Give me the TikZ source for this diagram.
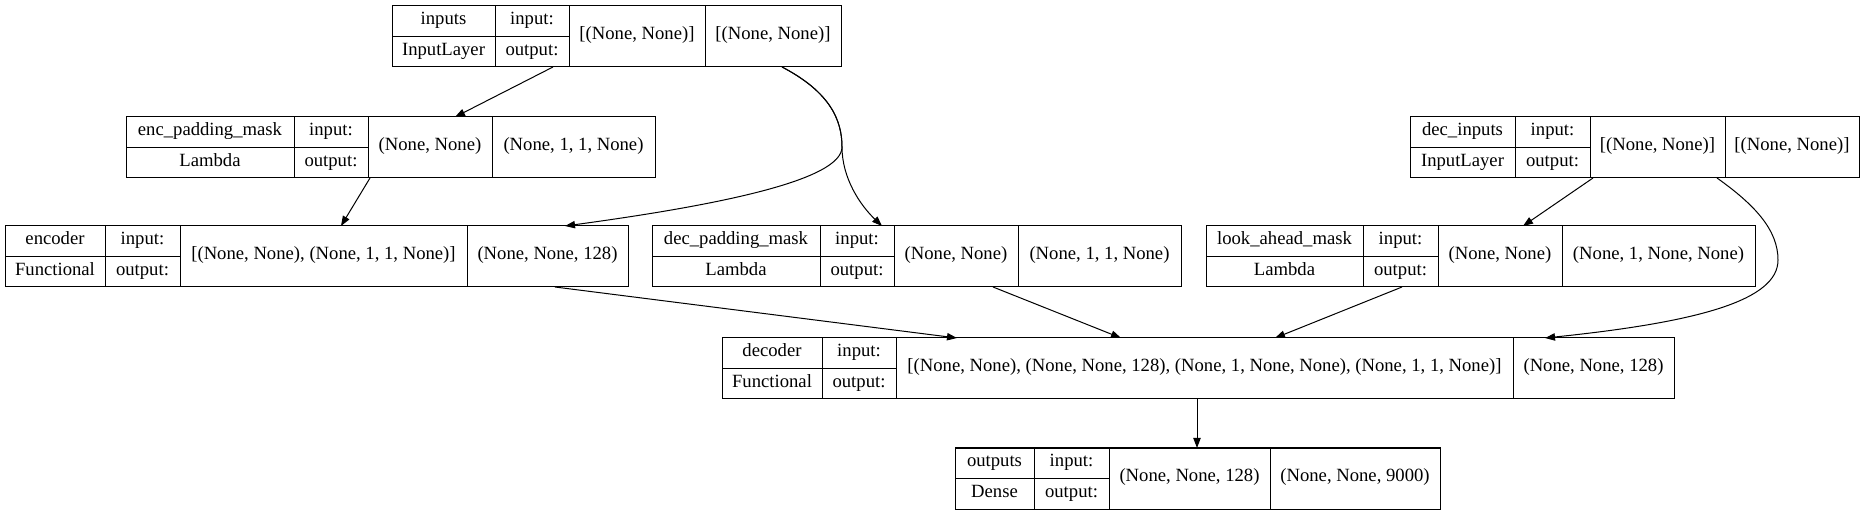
\documentclass[tikz,border=0pt]{standalone}
\usepackage{fontspec}
\setmainfont{Liberation Serif}
\usetikzlibrary{arrows.meta}
\newcommand\setshapes[2]{\def\lbinS{#1}\def\lboutS{#2}}
\newcommand\lbox[9]{%
 \node[cell,minimum width={(#3-#2)*0.75pt},minimum height=22.875pt] (#1-n) at ({(#2+#3)/2},{#7+15.25}) {#8};
 \node[cell,minimum width={(#3-#2)*0.75pt},minimum height=22.875pt] (#1-k) at ({(#2+#3)/2},{#7+45.75}) {#9};
 \node[cell,minimum width={(#4-#3)*0.75pt},minimum height=22.875pt] (#1-i) at ({(#3+#4)/2},{#7+15.25}) {input:};
 \node[cell,minimum width={(#4-#3)*0.75pt},minimum height=22.875pt] (#1-o) at ({(#3+#4)/2},{#7+45.75}) {output:};
 \node[cell,minimum width={(#5-#4)*0.75pt},minimum height=45.75pt] (#1-a) at ({(#4+#5)/2},{#7+30.5}) {\lbinS};
 \node[cell,minimum width={(#6-#5)*0.75pt},minimum height=45.75pt] (#1-b) at ({(#5+#6)/2},{#7+30.5}) {\lboutS};
}
\begin{document}
\begin{tikzpicture}[x=0.75pt,y=-0.75pt,
  cell/.style={draw,line width=0.75pt,inner sep=0pt,outer sep=0pt,anchor=center,
    font=\fontsize{14}{16}\selectfont,text height=0.72em,text depth=0.22em},
  edge/.style={draw,line width=0.75pt,-{Triangle[length=7.5pt,width=5.5pt]}}]
\useasboundingbox (0,0) rectangle (1867,516);
\setshapes{[(None, None)]}{[(None, None)]}
\lbox{inputs}{392}{495}{569}{705}{841}{6}{inputs}{InputLayer}
\setshapes{(None, None)}{(None, 1, 1, None)}
\lbox{enc}{126}{294}{368}{492}{655}{117}{enc\_padding\_mask}{Lambda}
\setshapes{[(None, None), (None, 1, 1, None)]}{(None, None, 128)}
\lbox{encoder}{5}{105}{180}{467}{628}{226}{encoder}{Functional}
\setshapes{(None, None)}{(None, 1, 1, None)}
\lbox{decpad}{652}{820}{894}{1018}{1181}{226}{dec\_padding\_mask}{Lambda}
\setshapes{[(None, None)]}{[(None, None)]}
\lbox{decin}{1410}{1515}{1590}{1725}{1859}{117}{dec\_inputs}{InputLayer}
\setshapes{(None, None)}{(None, 1, None, None)}
\lbox{look}{1206}{1363}{1438}{1562}{1755}{226}{look\_ahead\_mask}{Lambda}
\setshapes{[(None, None), (None, None, 128), (None, 1, None, None), (None, 1, 1, None)]}{(None, None, 128)}
\lbox{decoder}{722}{822}{896}{1513}{1674}{338}{decoder}{Functional}
\setshapes{(None, None, 128)}{(None, None, 9000)}
\lbox{outputs}{955}{1034}{1109}{1270}{1440}{448}{outputs}{Dense}
% edges
\draw[edge] (553,0 |- inputs-o.south) -- (455,0 |- enc-a.north);
\draw[edge] (370,0 |- enc-a.south) -- (341,0 |- encoder-a.north);
\draw[edge] (782,0 |- inputs-b.south) .. controls (830,92) and (842,120) .. (842,147)
  .. controls (842,180) and (720,205) .. (565,0 |- encoder-b.north);
\draw[edge] (782,0 |- inputs-b.south) .. controls (830,92) and (842,120) .. (842,147)
  .. controls (842,178) and (860,205) .. (882,0 |- decpad-i.north);
\draw[edge] (555,0 |- encoder-b.south) -- (957,0 |- decoder-a.north);
\draw[edge] (993,0 |- decpad-b.south) -- (1121,0 |- decoder-a.north);
\draw[edge] (1402,0 |- look-o.south) -- (1275,0 |- decoder-a.north);
\draw[edge] (1593,0 |- decin-a.south) -- (1523,0 |- look-a.north);
\draw[edge] (1717,0 |- decin-b.south) .. controls (1755,205) and (1778,230) .. (1778,260)
  .. controls (1778,300) and (1700,322) .. (1545,0 |- decoder-b.north);
\draw[edge] (1197,0 |- decoder-a.south) -- (1197,0 |- outputs-a.north);
\end{tikzpicture}
\end{document}
